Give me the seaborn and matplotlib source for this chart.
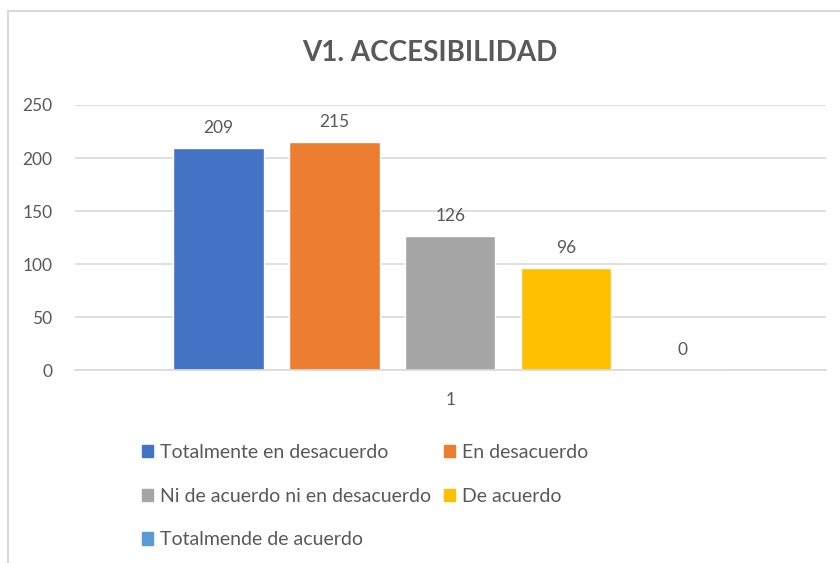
import matplotlib
matplotlib.use("Agg")
import matplotlib.pyplot as plt
import seaborn as sns
import pandas as pd
from matplotlib.patches import Rectangle, Patch

categories = ["1"]
labels = ["Totalmente en desacuerdo", "En desacuerdo",
          "Ni de acuerdo ni en desacuerdo", "De acuerdo",
          "Totalmende de acuerdo"]
values = [209, 215, 126, 96, 0]
colors = ["#4472C4", "#ED7D31", "#A5A5A5", "#FFC000", "#5B9BD5"]

sns.set_theme(style="white")
plt.rcParams['font.family'] = ['Lato', 'DejaVu Sans']
text_color = "#595959"

df = pd.DataFrame({"cat": categories * len(labels), "resp": labels, "n": values})

fig = plt.figure(figsize=(8.4, 5.63), dpi=100)
ax = fig.add_axes([0.089, 0.3428, 0.894, 0.4707])

sns.barplot(data=df, x="cat", y="n", hue="resp", hue_order=labels,
            palette=colors, width=0.772, gap=0.22, legend=False, ax=ax,
            saturation=1, errorbar=None)

for c in ax.containers:
    ax.bar_label(c, padding=9, fontsize=12.5, color=text_color)

ax.set_xlim(-0.5, 0.5)
ax.set_ylim(0, 250)
ax.set_yticks(range(0, 251, 50))
ax.yaxis.grid(True, color="#d9d9d9", lw=1.2)
ax.set_axisbelow(True)
for s in ["top", "right", "left"]:
    ax.spines[s].set_visible(False)
ax.spines["bottom"].set_color("#d9d9d9")
ax.spines["bottom"].set_linewidth(1.2)
ax.tick_params(axis="both", length=0, labelsize=12.5, colors=text_color)
ax.tick_params(axis="y", pad=16)
ax.tick_params(axis="x", pad=16)
ax.set_xlabel("")
ax.set_ylabel("")

fig.text(0.512, 0.905, "V1. ACCESIBILIDAD", ha="center", va="center",
         fontsize=20, fontweight="bold", color=text_color)

# legend: row-wise order in two columns
handles = [Patch(color=c) for c in colors]
order = [0, 2, 4, 1, 3]
leg = fig.legend([handles[i] for i in order], [labels[i] for i in order],
                 ncol=2, loc="upper left", bbox_to_anchor=(0.148, 0.243),
                 frameon=False, fontsize=14, handlelength=0.58, handleheight=0.58,
                 handletextpad=0.35, columnspacing=0.65, labelspacing=1.38)
for t in leg.get_texts():
    t.set_color(text_color)

fig.patches.append(Rectangle((8 / 840, -0.1), 1.1, 1.1 - 11 / 563 + 0.0,
                             transform=fig.transFigure, fill=False,
                             edgecolor="#d9d9d9", lw=1.5))

fig.savefig("out.png", dpi=100)
